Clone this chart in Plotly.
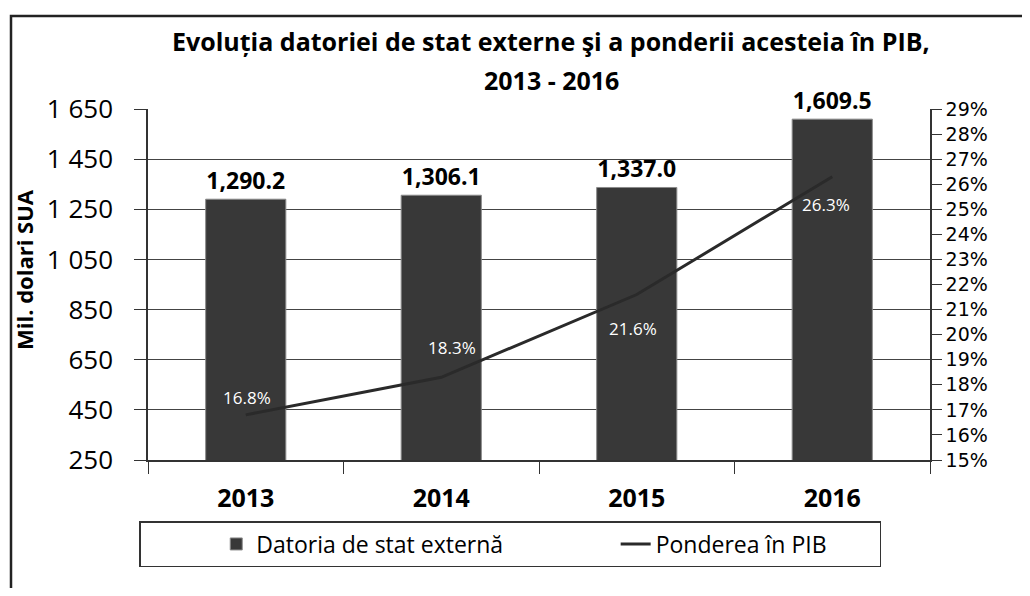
import plotly.graph_objects as go

years = ["2013", "2014", "2015", "2016"]
debt = [1290.2, 1306.1, 1337.0, 1609.5]
share = [16.8, 18.3, 21.6, 26.3]
left_ticks = [250, 450, 650, 850, 1050, 1250, 1450, 1650]
left_ticktext = ["250", "450", "650", "850", "1 050", "1 250", "1 450", "1 650"]
right_ticks = list(range(15, 30))
right_ticktext = [f"{v}%" for v in right_ticks]
series_names = ["Datoria de stat externă", "Ponderea în PIB"]
# label offsets (pixels) for the share labels
share_xshift = [1, 11, -4, -6]
share_yshift = [17, 30, -34, -28]

FONT = "Open Sans"
NB = "\u00a0"

fig = go.Figure()
fig.add_trace(go.Bar(
    x=years, y=debt, name=series_names[0] + NB * 18,
    marker=dict(color="#383838", line=dict(color="#8a8a8a", width=1)),
    width=0.41,
    text=[f"{v:,.1f}" for v in debt], textposition="outside",
    textfont=dict(family=FONT, size=23, color="black", weight="bold"),
    cliponaxis=False,
))
fig.add_trace(go.Scatter(
    x=years, y=share, name=series_names[1] + NB * 8, yaxis="y2",
    mode="lines", line=dict(color="#2a2a2a", width=3),
    cliponaxis=False,
))

# figure is placed by the page at (8, 8): work in window pixels
OFF = 8
W, H = 1030 - 2 * OFF, 596 - 2 * OFF
L, R, T, B = 148 - OFF, 100 - OFF, 109 - OFF, 136 - OFF
pw, ph = W - L - R, H - T - B

def px(x):
    return (x - OFF - L) / pw

def py(y):
    return (H - B - (y - OFF)) / ph

annotations = [
    dict(text="Evoluția datoriei de stat externe şi a ponderii acesteia în PIB,",
         xref="paper", yref="paper", x=px(551), y=py(41), xanchor="center", yanchor="middle",
         showarrow=False, font=dict(family=FONT, size=25, weight="bold")),
    dict(text="2013 - 2016",
         xref="paper", yref="paper", x=px(551), y=py(80), xanchor="center", yanchor="middle",
         showarrow=False, font=dict(family=FONT, size=25, weight="bold")),
    dict(text="Mil. dolari SUA", textangle=-90,
         xref="paper", yref="paper", x=px(24), y=py(270), xanchor="center", yanchor="middle",
         showarrow=False, font=dict(family=FONT, size=22, weight="bold")),
]
# category index of each year on the category x axis
for i, (v, xs, ys) in enumerate(zip(share, share_xshift, share_yshift)):
    annotations.append(dict(
        text=f"{v:.1f}%", x=i, y=v, xref="x", yref="y2",
        xshift=xs, yshift=ys, showarrow=False,
        font=dict(family=FONT, size=17, color="white"),
    ))

fig.update_layout(
    width=W, height=H,
    margin=dict(l=L, r=R, t=T, b=B, autoexpand=False),
    paper_bgcolor="white", plot_bgcolor="white",
    font=dict(family=FONT, color="black"),
    showlegend=True,
    xaxis=dict(
        type="category", categoryorder="array", categoryarray=years,
        automargin=False,
        showline=True, linecolor="#333", linewidth=1.5,
        ticks="outside", ticklen=12, tickcolor="#333", tickson="boundaries",
        tickfont=dict(family=FONT, size=25, weight="bold"),
        ticklabelstandoff=15,
        showgrid=False,
    ),
    yaxis=dict(
        automargin=False,
        range=[250, 1650], tickvals=left_ticks, ticktext=left_ticktext,
        showline=True, linecolor="#333", linewidth=1.5,
        ticks="outside", ticklen=12, tickcolor="#333",
        tickfont=dict(family=FONT, size=26),
        ticklabelstandoff=16,
        showgrid=True, gridcolor="#444", gridwidth=1,
        zeroline=False,
    ),
    yaxis2=dict(
        automargin=False,
        range=[15, 29], overlaying="y", side="right",
        tickvals=right_ticks, ticktext=right_ticktext,
        showline=True, linecolor="#333", linewidth=1.5,
        ticks="outside", ticklen=10, tickcolor="#333",
        tickfont=dict(family="DejaVu Sans", size=19),
        showgrid=False, zeroline=False,
    ),
    legend=dict(
        orientation="h",
        x=px(139), xanchor="left", y=py(521), yanchor="top",
        bordercolor="#333", borderwidth=1.5,
        font=dict(family=FONT, size=23),
        title=dict(text=NB * 11, side="left", font=dict(size=23)),
    ),
    annotations=annotations,
    shapes=[dict(
        type="rect", xref="paper", yref="paper",
        x0=px(11), x1=px(1040), y0=py(16), y1=py(620),
        line=dict(color="#222", width=2.5), layer="below",
    )],
)

fig.write_html("out.html")
